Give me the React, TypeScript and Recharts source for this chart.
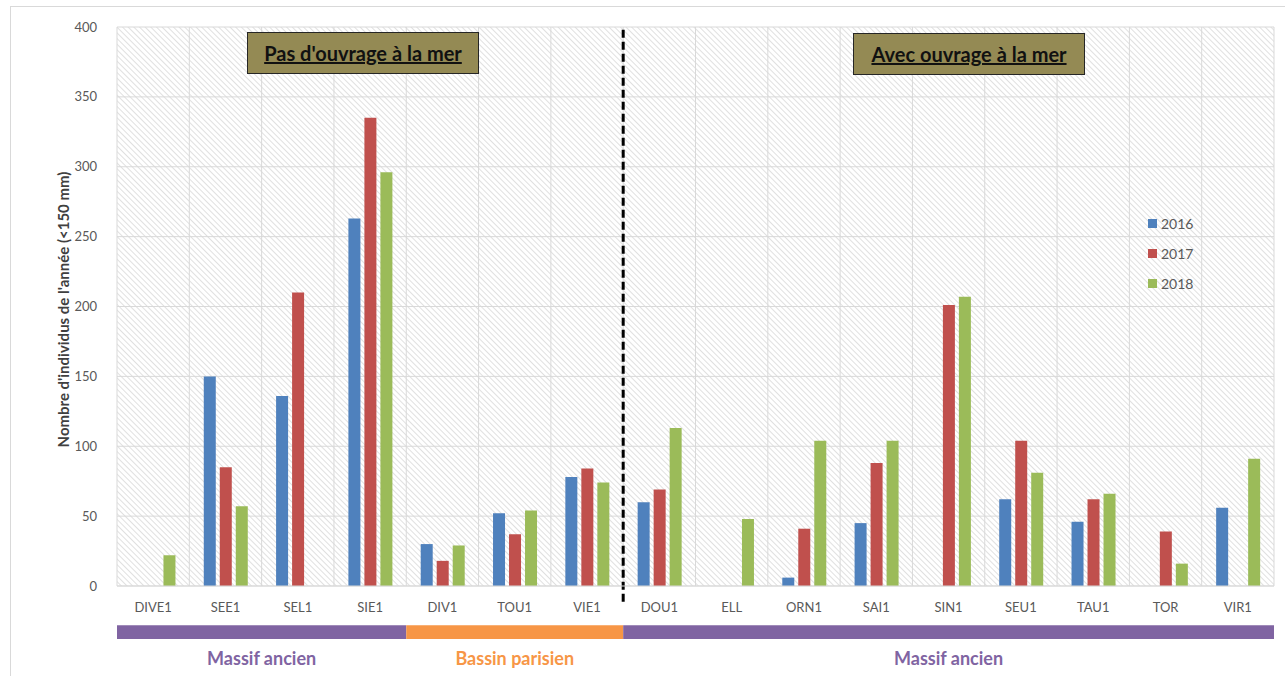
import React from "react";
import {
  BarChart,
  Bar,
  XAxis,
  YAxis,
  CartesianGrid,
  Legend,
  ReferenceArea,
  ReferenceLine,
} from "recharts";

// stations (x axis)
const categories = [
  "DIVE1", "SEE1", "SEL1", "SIE1", "DIV1", "TOU1", "VIE1",
  "DOU1", "ELL", "ORN1", "SAI1", "SIN1", "SEU1", "TAU1", "TOR", "VIR1",
];

const values2016 = [0, 150, 136, 263, 30, 52, 78, 60, 0, 6, 45, 0, 62, 46, 0, 56];
const values2017 = [0, 85, 210, 335, 18, 37, 84, 69, 0, 41, 88, 201, 104, 62, 39, 0];
const values2018 = [22, 57, 0, 296, 29, 54, 74, 113, 48, 104, 104, 207, 81, 66, 16, 91];

const yTicks = [0, 50, 100, 150, 200, 250, 300, 350, 400];

// geological areas under the axis (first and last station)
const regions = [
  { label: "Massif ancien", from: "DIVE1", to: "SIE1", color: "#8064A2" },
  { label: "Bassin parisien", from: "DIV1", to: "VIE1", color: "#F79646" },
  { label: "Massif ancien", from: "DOU1", to: "VIR1", color: "#8064A2" },
];

// first station with a sea wall
const splitAt = "DOU1";

const series = [
  { key: "y2016", name: "2016", color: "#4F81BD" },
  { key: "y2017", name: "2017", color: "#C0504D" },
  { key: "y2018", name: "2018", color: "#9BBB59" },
];

const rows = categories.map((station, i) => ({
  station,
  y2016: values2016[i],
  y2017: values2017[i],
  y2018: values2018[i],
}));

const yLabel = "Nombre d'individus de l'année (<150 mm)";
const font = "Lato, 'Open Sans', sans-serif";

const notes = [
  { text: "Pas d'ouvrage à la mer", left: 247, top: 32 },
  { text: "Avec ouvrage à la mer", left: 853, top: 33 },
];

const LegendBox = ({ payload }: any) => (
  <div style={{ fontFamily: font }}>
    {(payload || []).map((p: any) => (
      <div key={p.value} style={{ display: "flex", alignItems: "center", height: 30 }}>
        <span style={{ width: 9, height: 9, background: p.color, display: "inline-block" }} />
        <span style={{ marginLeft: 4, fontSize: 14, color: "#595959" }}>{p.value}</span>
      </div>
    ))}
  </div>
);

const YTitle = ({ viewBox }: any) => {
  const cx = 63;
  const cy = viewBox.y + viewBox.height / 2 + 3;
  return (
    <text
      x={cx}
      y={cy}
      transform={`rotate(-90, ${cx}, ${cy})`}
      textAnchor="middle"
      dominantBaseline="central"
      fontFamily={font}
      fontSize={15}
      fontWeight={700}
      fill="#404040"
    >
      {yLabel}
    </text>
  );
};

export default function App() {
  return (
    <div style={{ position: "absolute", left: 0, top: 0, width: 1285, height: 676, background: "#fff", overflow: "hidden" }}>
      <div style={{ position: "absolute", left: 10, top: 6, width: 1300, height: 700, border: "1px solid #d9d9d9" }} />
      <BarChart
        width={1285}
        height={676}
        data={rows}
        margin={{ top: 27, right: 11, left: 57, bottom: 60 }}
        barCategoryGap="20%"
        barGap={4}
        style={{ position: "absolute", left: 0, top: 0 }}
      >
        <defs>
          <pattern id="hatch" width="4" height="4" patternUnits="userSpaceOnUse" patternTransform="rotate(45)">
            <rect width="4" height="4" fill="#ffffff" />
            <line x1="0" y1="0" x2="4" y2="0" stroke="#d6d6d6" strokeWidth="1.5" />
          </pattern>
        </defs>
        <CartesianGrid
          stroke="#d9d9d9"
          fill="url(#hatch)"
          fillOpacity={1}
          verticalCoordinatesGenerator={({ offset }: any) =>
            Array.from({ length: categories.length + 1 }, (_, i) => offset.left + (i * offset.width) / categories.length)
          }
        />
        <XAxis
          dataKey="station"
          axisLine={{ stroke: "#d9d9d9" }}
          tickLine={false}
          tickMargin={11}
          interval={0}
          tick={{ fill: "#595959", fontSize: 13, fontFamily: font }}
        />
        <YAxis
          width={60}
          domain={[0, 400]}
          ticks={yTicks}
          axisLine={false}
          tickLine={false}
          tickMargin={14}
          tick={{ fill: "#595959", fontSize: 13, fontFamily: font }}
          label={<YTitle />}
        />
        {series.map((s) => (
          <Bar key={s.key} dataKey={s.key} name={s.name} fill={s.color} isAnimationActive={false} />
        ))}
        {regions.map((r, i) => (
          <ReferenceArea
            key={i}
            x1={r.from}
            x2={r.to}
            y1={-28}
            y2={-38}
            fill={r.color}
            fillOpacity={1}
            stroke="none"
            ifOverflow="visible"
            label={{
              value: r.label,
              position: "bottom",
              offset: 13,
              fill: r.color,
              fontSize: 18,
              fontWeight: 700,
              fontFamily: font,
            }}
          />
        ))}
        <ReferenceLine
          segment={[{ x: splitAt, y: 398 }, { x: splitAt, y: -14 }]}
          position="start"
          stroke="#000"
          strokeWidth={3}
          strokeDasharray="8 4"
          ifOverflow="visible"
        />
        <Legend
          layout="vertical"
          verticalAlign="middle"
          align="center"
          content={<LegendBox />}
          wrapperStyle={{ position: "absolute", left: 1148, top: 208, width: 80 }}
        />
      </BarChart>
      {notes.map((n) => (
        <div
          key={n.text}
          style={{
            position: "absolute",
            left: n.left,
            top: n.top,
            width: 232,
            height: 42,
            boxSizing: "border-box",
            background: "#948A54",
            border: "1.5px solid #262626",
            fontFamily: font,
            fontSize: 20,
            fontWeight: 700,
            color: "#111",
            textDecoration: "underline",
            display: "flex",
            alignItems: "center",
            justifyContent: "center",
          }}
        >
          {n.text}
        </div>
      ))}
    </div>
  );
}
